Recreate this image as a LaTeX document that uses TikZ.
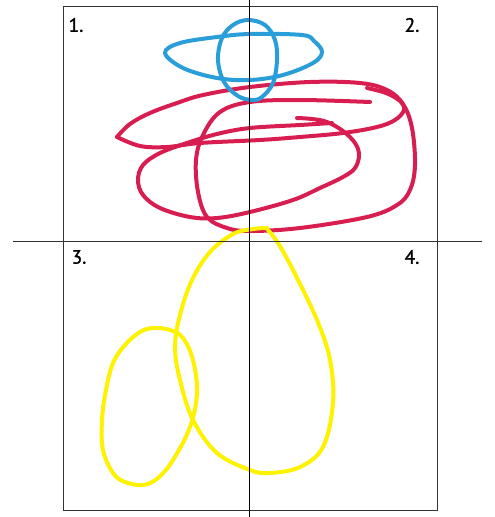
\documentclass[tikz,border=0pt]{standalone}
\usepackage{fontspec}
\setmainfont{PT Sans}
\newfontfamily\numfont{PT Sans}[BoldFont={PT Sans},BoldFeatures={FakeBold=1.2}]
\begin{document}
\begin{tikzpicture}[x=0.75pt,y=-0.75pt,
  pen/.style={line width=3pt,line cap=round,line join=round},
  redpen/.style={pen,draw=crimson},
  bluepen/.style={pen,draw=skyblue},
  yellowpen/.style={pen,draw=lemon},
  axis/.style={line width=0.75pt,draw=black},
  frame/.style={line width=0.75pt,draw=black!80},
  num/.style={font=\numfont\bfseries\fontsize{14.5}{15}\selectfont,inner sep=0pt,text=black}]
\definecolor{crimson}{HTML}{D81E50}
\definecolor{skyblue}{HTML}{2A9ED8}
\definecolor{lemon}{HTML}{FFF200}
\useasboundingbox (0,0) rectangle (494,517);
% red strokes
\draw[redpen] plot[smooth,tension=0.6] coordinates {(367,88) (386,93) (400,101) (404,110) (395,120) (377,127) (343,133) (300,137) (260,140) (200,143) (167,147) (140,146) (117,137)};
\draw[redpen] plot[smooth,tension=0.6] coordinates {(117,137) (130,124) (150,113) (177,103) (203,95) (250,87) (310,82) (360,83) (387,90) (403,104) (412,128) (415,165) (410,190) (397,205) (367,217) (300,228) (250,231) (227,228) (207,217) (198,192) (196,160) (203,135) (220,112) (250,102) (300,100) (370,102)};
\draw[redpen] plot[smooth,tension=0.6] coordinates {(297,118) (312,119) (327,122) (343,131) (355,143) (359,155) (355,168) (343,177) (320,188) (293,200) (250,212) (217,218) (190,217) (160,208) (143,195) (138,180) (143,165) (160,153) (187,143) (217,134) (250,128) (300,125) (332,123)};
% blue strokes
\draw[bluepen] plot[smooth cycle,tension=0.6] coordinates {(165,53) (180,43) (217,37) (250,34) (302,35) (314,41) (322,52) (313,63) (283,75) (250,80) (217,78) (183,68)};
\draw[bluepen] plot[smooth cycle,tension=0.6] coordinates {(248,20) (265,25) (275,40) (277,60) (273,83) (262,97) (252,100) (238,96) (224,82) (218,60) (222,38) (233,25)};
% yellow strokes
\draw[yellowpen] plot[smooth,tension=0.6] coordinates {(267,228) (253,229) (233,234) (210,252) (192,280) (180,315) (175,347) (180,380) (193,420) (217,453) (250,470) (270,473) (300,467) (323,447) (333,403) (330,360) (317,320) (293,270) (278,243) (268,230)};
\draw[yellowpen] plot[smooth cycle,tension=0.6] coordinates {(153,328) (170,330) (183,338) (193,360) (197,393) (190,427) (173,460) (158,478) (143,485) (125,482) (113,473) (103,450) (102,420) (106,390) (113,363) (125,345) (140,332)};
% frame and axes
\coordinate (tl) at (63,7);
\coordinate (br) at (437,510);
\coordinate (vt) at (249.5,0);
\coordinate (vb) at (249.5,517);
\coordinate (hl) at (13,241.7);
\coordinate (hr) at (482,241.7);
\draw[frame] (tl) rectangle (br);
\draw[axis] (vt) -- (vb);
\draw[frame] (hl) -- (hr);
% labels
\node[num] (q1) at (76,25) {1.};
\node[num] (q2) at (412,25) {2.};
\node[num] (q3) at (79,257) {3.};
\node[num] (q4) at (412,257) {4.};
\end{tikzpicture}
\end{document}
